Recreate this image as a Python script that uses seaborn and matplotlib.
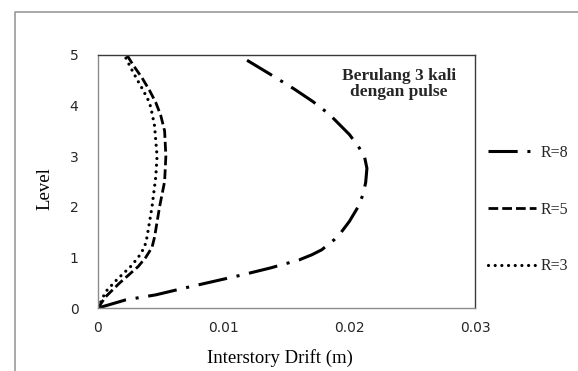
import matplotlib
matplotlib.use("Agg")
import matplotlib.pyplot as plt
import pandas as pd
import seaborn as sns
from matplotlib.lines import Line2D

# Interstory drift (m) per level, three R factors
levels_r8 = [0, 0.16, 0.26, 0.39, 0.52, 0.65, 0.79, 0.95, 1.05, 1.15, 1.25, 1.35,
             1.48, 1.71, 2.0, 2.25, 2.48, 2.76, 3.0, 3.2, 3.43, 3.63, 3.83,
             4.08, 4.33, 4.62, 4.92]
drift_r8 = [0, 0.0022, 0.0046, 0.0068, 0.0091, 0.0114, 0.0137, 0.0160, 0.0170,
            0.0178, 0.0183, 0.0188, 0.0193, 0.0200, 0.0207, 0.0211, 0.0213,
            0.0214, 0.0212, 0.0207, 0.0200, 0.0192, 0.0184, 0.0171, 0.0156,
            0.0137, 0.0117]

levels_r5 = [0, 0.22, 0.49, 0.82, 1.0, 1.2, 1.4, 1.7, 2.0, 2.5, 3.0, 3.5,
             3.8, 4.06, 4.3, 4.55, 4.8, 5.0]
drift_r5 = [0, 0.0006, 0.0017, 0.0032, 0.0038, 0.0043, 0.0045, 0.0047, 0.0049,
            0.0053, 0.0054, 0.0053, 0.0050, 0.0046, 0.0041, 0.0035, 0.0028,
            0.0023]

levels_r3 = [0, 0.32, 0.56, 0.82, 1.0, 1.2, 1.4, 1.7, 2.0, 2.6, 3.0, 3.6,
             3.85, 4.06, 4.3, 4.52, 4.75, 5.0]
drift_r3 = [0, 0.0006, 0.0015, 0.0026, 0.0032, 0.0037, 0.0039, 0.0041, 0.0043,
            0.0046, 0.0047, 0.0045, 0.0043, 0.0041, 0.0036, 0.0031, 0.0026,
            0.0021]

series_labels = ["R=8", "R=5", "R=3"]
x_ticks = [0, 0.01, 0.02, 0.03]
x_tick_labels = ["0", "0.01", "0.02", "0.03"]
y_ticks = [0, 1, 2, 3, 4, 5]
note_text = "Berulang 3 kali\ndengan pulse"

sns.set_theme(style="white")
plt.rcParams["lines.scale_dashes"] = False
serif = ["Liberation Serif", "DejaVu Serif"]

fig = plt.figure(figsize=(5.78, 3.71), dpi=100)
ax = fig.add_axes([98 / 578, 1 - 308 / 371, 377 / 578, 253 / 371])

series = [
    (levels_r8, drift_r8, dict(linewidth=2.2, linestyle=(0, (21, 7, 2.2, 7)),
                               dash_capstyle="butt")),
    (levels_r5, drift_r5, dict(linewidth=2.0, linestyle=(0, (7, 2.9)),
                               dash_capstyle="butt")),
    (levels_r3, drift_r3, dict(linewidth=2.3, linestyle=(0, (0.01, 4.8)),
                               dash_capstyle="round")),
]
for label, (lv, dr, kw) in zip(series_labels, series):
    df = pd.DataFrame({"drift": dr, "level": lv})
    sns.lineplot(data=df, x="drift", y="level", orient="y", sort=False,
                 color="black", label=label, ax=ax, **kw)

if ax.get_legend() is not None:
    ax.get_legend().remove()

ax.set_xlim(0, 0.03)
ax.set_ylim(0, 5)
ax.set_xticks(x_ticks)
ax.set_xticklabels(x_tick_labels)
ax.set_yticks(y_ticks)
ax.tick_params(axis="both", length=0, labelsize=10, labelcolor="#262626")
ax.tick_params(axis="x", pad=9)
ax.tick_params(axis="y", pad=14)

for side, col in [("left", "#8c8c8c"), ("bottom", "#8c8c8c"),
                  ("top", "#3a3a3a"), ("right", "#3a3a3a")]:
    ax.spines[side].set_visible(True)
    ax.spines[side].set_color(col)
    ax.spines[side].set_linewidth(1.0)

ax.set_xlabel("Interstory Drift (m)", fontfamily=serif, fontsize=13.5,
              color="black", va="center")
ax.xaxis.set_label_coords((280 - 98) / 377, (308 - 358) / 253)
ax.set_ylabel("Level", fontfamily=serif, fontsize=13.5, color="black",
              va="center", ha="center")
ax.yaxis.set_label_coords((45 - 98) / 377, (308 - 189) / 253)

ax.text((399 - 98) / 377, (308 - 84.5) / 253, note_text, transform=ax.transAxes,
        ha="center", va="center", fontfamily=serif, fontweight="bold",
        fontsize=12.5, linespacing=1.0)

handles = ax.get_lines()[:3]
fig.legend(handles, series_labels, loc="upper left",
           bbox_to_anchor=(488 / 578, 1 - 145 / 371), frameon=False,
           prop={"family": serif, "size": 11.5}, handlelength=3.0,
           handletextpad=0.3, labelspacing=2.55, borderpad=0, borderaxespad=0)

# outer chart-area border
fig.add_artist(Line2D([15 / 578, 15 / 578, 1.0], [0.0, 1 - 12 / 371, 1 - 12 / 371],
                      transform=fig.transFigure, color="#9a9a9a", linewidth=1.2))

fig.savefig("out.png", dpi=100, facecolor="white")
